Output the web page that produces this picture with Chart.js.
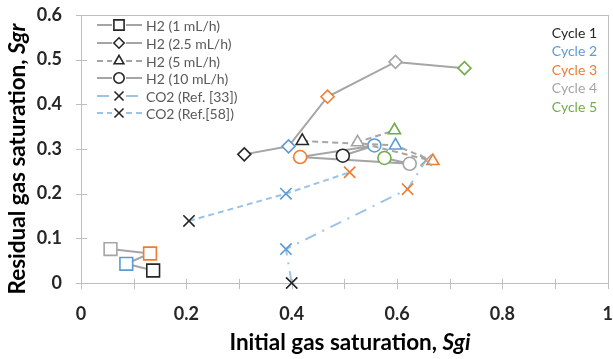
<!DOCTYPE html>
<html>
<head>
<meta charset="utf-8">
<script src="https://cdn.jsdelivr.net/npm/chart.js"></script>
<style>
  html, body { margin: 0; padding: 0; background: #fff; }
  #wrap { width: 613px; height: 359px; }
</style>
</head>
<body>
<div id="wrap"><canvas id="chart" width="613" height="359"></canvas></div>
<script>
// cycle colours (1..5)
const cycleColors = ['#262626', '#5B9BD5', '#ED7D31', '#A5A5A5', '#70AD47'];
const cycleLabels = ['Cycle 1', 'Cycle 2', 'Cycle 3', 'Cycle 4', 'Cycle 5'];

// H2 1 mL/h
const h2_1_sgi = [0.137, 0.086, 0.131, 0.056];
const h2_1_sgr = [0.028, 0.043, 0.066, 0.076];
const h2_1_cyc = [1, 2, 3, 4];

// H2 2.5 mL/h
const h2_25_sgi = [0.310, 0.394, 0.468, 0.597, 0.728];
const h2_25_sgr = [0.288, 0.306, 0.417, 0.495, 0.481];
const h2_25_cyc = [1, 2, 3, 4, 5];

// H2 5 mL/h
const h2_5_sgi = [0.420, 0.597, 0.668, 0.525, 0.595];
const h2_5_sgr = [0.318, 0.308, 0.273, 0.315, 0.342];
const h2_5_cyc = [1, 2, 3, 4, 5];

// H2 10 mL/h
const h2_10_sgi = [0.497, 0.557, 0.416, 0.624, 0.576];
const h2_10_sgr = [0.285, 0.308, 0.282, 0.267, 0.280];
const h2_10_cyc = [1, 2, 3, 4, 5];

// CO2 Ref. [33]
const co2_33_sgi = [0.400, 0.389, 0.620, 0.655];
const co2_33_sgr = [0.000, 0.076, 0.210, 0.275];
const co2_33_cyc = [1, 2, 3, 4];

// CO2 Ref. [58]
const co2_58_sgi = [0.205, 0.389, 0.510];
const co2_58_sgr = [0.139, 0.200, 0.248];
const co2_58_cyc = [1, 2, 3];

const xTicks = [0, 0.2, 0.4, 0.6, 0.8, 1];
const yTicks = [0, 0.1, 0.2, 0.3, 0.4, 0.5, 0.6];

const FONT = 'Lato, "Open Sans", sans-serif';
const FRAME = '#BFBFBF';

function pts(xs, ys) {
    return xs.map((x, i) => ({ x: x, y: ys[i] }));
}

function makeSet(label, xs, ys, cyc, style, radius, lineColor, dash) {
    return {
        label: label,
        data: pts(xs, ys),
        showLine: true,
        clip: false,
        borderColor: lineColor,
        borderWidth: 2,
        borderDash: dash,
        pointStyle: style,
        pointRadius: radius,
        pointHoverRadius: radius,
        pointBorderWidth: 1.6,
        pointBackgroundColor: '#ffffff',
        pointBorderColor: cyc.map(c => cycleColors[c - 1])
    };
}

const GRAY_LINE = '#A5A5A5';
const BLUE_LINE = '#9DC3E6';

const datasets = [
    makeSet('CO2 (Ref. [33])', co2_33_sgi, co2_33_sgr, co2_33_cyc, 'crossRot', 8, BLUE_LINE, [12, 7, 2, 7]),
    makeSet('CO2 (Ref.[58])', co2_58_sgi, co2_58_sgr, co2_58_cyc, 'crossRot', 8, BLUE_LINE, [6, 4]),
    makeSet('H2 (1 mL/h)', h2_1_sgi, h2_1_sgr, h2_1_cyc, 'rect', 9, GRAY_LINE, []),
    makeSet('H2 (2.5 mL/h)', h2_25_sgi, h2_25_sgr, h2_25_cyc, 'rectRot', 6.5, GRAY_LINE, []),
    makeSet('H2 (5 mL/h)', h2_5_sgi, h2_5_sgr, h2_5_cyc, 'triangle', 7, GRAY_LINE, [6, 4]),
    makeSet('H2 (10 mL/h)', h2_10_sgi, h2_10_sgr, h2_10_cyc, 'circle', 6.5, GRAY_LINE, [])
];

// legend order as in the picture
const legendOrder = [2, 3, 4, 5, 0, 1];

const framePlugin = {
    id: 'frame',
    beforeDatasetsDraw(chart) {
        const ctx = chart.ctx;
        const a = chart.chartArea;
        const xs = chart.scales.x, ys = chart.scales.y;
        const l = Math.round(a.left), t = Math.round(a.top);
        const r = Math.round(a.right), b = Math.round(a.bottom);
        ctx.save();
        ctx.fillStyle = FRAME;
        ctx.fillRect(l, t, r - l + 1, 1);
        ctx.fillRect(l, b, r - l + 1, 1);
        ctx.fillRect(l, t, 1, b - t + 1);
        ctx.fillRect(r, t, 1, b - t + 1);
        // tick marks crossing the axes
        for (let i = 0; i <= 10; i++) {
            const px = Math.round(xs.getPixelForValue(i / 10));
            ctx.fillRect(px, b - 4, 1, 10);
        }
        yTicks.forEach(v => {
            const py = Math.round(ys.getPixelForValue(v));
            ctx.fillRect(l - 5, py, 11, 1);
        });
        ctx.restore();
    },
    afterDraw(chart) {
        const ctx = chart.ctx;
        ctx.save();
        // series legend
        const lx0 = 97, lx1 = 142, mx = 119, tx = 146;
        const rowY = [25, 43, 61, 78, 96, 113];
        ctx.textBaseline = 'middle';
        ctx.textAlign = 'left';
        legendOrder.forEach((di, r) => {
            const ds = chart.data.datasets[di];
            const y = rowY[r];
            ctx.save();
            ctx.strokeStyle = ds.borderColor;
            ctx.lineWidth = 2;
            ctx.setLineDash(ds.borderDash || []);
            ctx.beginPath();
            ctx.moveTo(lx0, y);
            ctx.lineTo(mx - 7, y);
            ctx.moveTo(mx + 7, y);
            ctx.lineTo(lx1, y);
            ctx.stroke();
            ctx.restore();
            ctx.fillStyle = '#ffffff';
            ctx.strokeStyle = '#262626';
            Chart.helpers.drawPoint(ctx, {
                pointStyle: ds.pointStyle,
                radius: ds.pointRadius * 0.8,
                borderWidth: 1.8,
                rotation: 0
            }, mx, y);
            ctx.fillStyle = '#595959';
            ctx.font = '14px ' + FONT;
            ctx.fillText(ds.label, tx, y + 1);
        });

        // cycle colour key
        ctx.textAlign = 'right';
        ctx.font = '14px ' + FONT;
        const cy = [33, 51, 70, 88, 107];
        cycleLabels.forEach((t, i) => {
            ctx.fillStyle = cycleColors[i];
            ctx.fillText(t, 597, cy[i]);
        });

        // axis titles with italic symbols
        drawMixed(ctx, [['Initial gas saturation, ', 'bold'], ['Sgi', 'italic bold']], 350, 343, 0);
        drawMixed(ctx, [['Residual gas saturation, ', 'bold'], ['Sgr', 'italic bold']], 18, 159, -Math.PI / 2);
        ctx.restore();
    }
};

function drawMixed(ctx, parts, cx, cy, rot) {
    ctx.save();
    ctx.translate(cx, cy);
    ctx.rotate(rot);
    ctx.fillStyle = '#000000';
    ctx.textBaseline = 'middle';
    ctx.textAlign = 'left';
    let total = 0;
    const widths = parts.map(p => {
        ctx.font = p[1] + ' 22.5px ' + FONT;
        const w = ctx.measureText(p[0]).width;
        total += w;
        return w;
    });
    let x = -total / 2;
    parts.forEach((p, i) => {
        ctx.font = p[1] + ' 22.5px ' + FONT;
        ctx.fillText(p[0], x, 0);
        x += widths[i];
    });
    ctx.restore();
}

// invisible tick marks give the label gap without inflating the layout padding
const hiddenGrid = (len) => ({
    display: true,
    drawOnChartArea: false,
    drawTicks: true,
    tickLength: len,
    color: 'rgba(0,0,0,0)',
    tickColor: 'rgba(0,0,0,0)'
});

new Chart(document.getElementById('chart'), {
    type: 'scatter',
    data: { datasets: datasets },
    options: {
        responsive: false,
        animation: false,
        events: [],
        layout: { autoPadding: false, padding: { top: 15, right: 4, left: 0, bottom: 0 } },
        plugins: {
            legend: { display: false },
            tooltip: { enabled: false },
            title: { display: false }
        },
        scales: {
            x: {
                type: 'linear',
                min: 0,
                max: 1,
                afterFit: s => { s.height = 76; },
                afterBuildTicks: s => { s.ticks = xTicks.map(v => ({ value: v })); },
                grid: hiddenGrid(20),
                border: { display: false },
                ticks: {
                    padding: 0,
                    color: '#262626',
                    font: { family: FONT, size: 18, weight: 'bold' },
                    callback: v => String(v)
                }
            },
            y: {
                type: 'linear',
                min: 0,
                max: 0.6,
                afterFit: s => { s.width = 81; },
                afterBuildTicks: s => { s.ticks = yTicks.map(v => ({ value: v })); },
                grid: hiddenGrid(19),
                border: { display: false },
                ticks: {
                    padding: 0,
                    color: '#262626',
                    font: { family: FONT, size: 18, weight: 'bold' },
                    callback: v => String(v)
                }
            }
        }
    },
    plugins: [framePlugin]
});
</script>
</body>
</html>
